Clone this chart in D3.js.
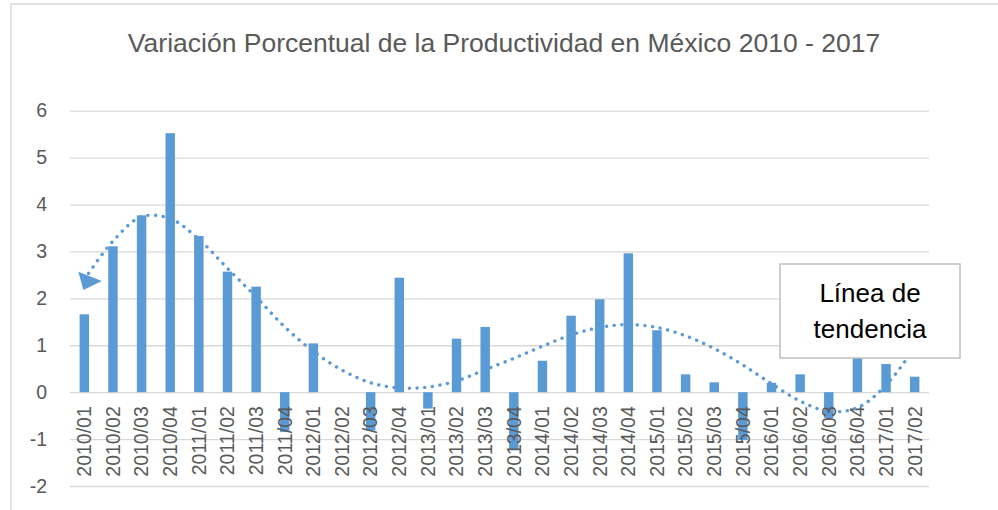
<!DOCTYPE html>
<html>
<head>
<meta charset="utf-8">
<script src="https://cdn.jsdelivr.net/npm/d3@7"></script>
<style>
  html, body { margin: 0; padding: 0; background: #fff; }
  svg { display: block; font-family: "Liberation Sans", Arial, sans-serif; }
</style>
</head>
<body>
<svg id="chart" width="998" height="510"></svg>
<script>
const categories = [
  '2010/01', '2010/02', '2010/03', '2010/04',
  '2011/01', '2011/02', '2011/03', '2011/04',
  '2012/01', '2012/02', '2012/03', '2012/04',
  '2013/01', '2013/02', '2013/03', '2013/04',
  '2014/01', '2014/02', '2014/03', '2014/04',
  '2015/01', '2015/02', '2015/03', '2015/04',
  '2016/01', '2016/02', '2016/03', '2016/04',
  '2017/01', '2017/02',
];

const productividad = [
  1.66, 3.11, 3.77, 5.52,
  3.33, 2.57, 2.25, -0.85,
  1.04, 0.0, -0.82, 2.44,
  -0.35, 1.14, 1.39, -1.24,
  0.67, 1.63, 1.98, 2.96,
  1.32, 0.38, 0.21, -1.02,
  0.2, 0.38, -0.55, 0.85,
  0.6, 0.33,
];

// polynomial trendline, one value per quarter
const tendencia = [
  2.4, 3.22, 3.74, 3.7,
  3.26, 2.64, 2.03, 1.39,
  0.87, 0.47, 0.2, 0.09,
  0.11, 0.24, 0.48, 0.72,
  0.98, 1.22, 1.38, 1.44,
  1.38, 1.2, 0.93, 0.58,
  0.18, -0.19, -0.41, -0.33,
  0.15, 0.95,
];

const yTicks = [-2, -1, 0, 1, 2, 3, 4, 5, 6];
const title = 'Variación Porcentual de la Productividad en México 2010 - 2017';
const calloutLines = ['Línea de', 'tendencia'];

const blue = '#5B9BD5';
const textGray = '#595959';
const gridGray = '#d9d9d9';

const plot = { left: 70, right: 929, top: 110.7, bottom: 486 };

const svg = d3.select('#chart');

// outer chart border (only top and left edges are inside the frame)
svg.append('rect')
  .attr('x', 11).attr('y', 4)
  .attr('width', 1000).attr('height', 520)
  .attr('fill', 'none')
  .attr('stroke', gridGray)
  .attr('stroke-width', 1.5);

svg.append('text')
  .attr('x', 504).attr('y', 51.7)
  .attr('text-anchor', 'middle')
  .attr('fill', textGray)
  .attr('font-size', 26.5)
  .text(title);

const x = d3.scaleBand()
  .domain(categories)
  .range([plot.left, plot.right])
  .paddingInner(0.67)
  .paddingOuter(0.335);

const y = d3.scaleLinear()
  .domain([-2, 6])
  .range([plot.bottom, plot.top]);

const center = (c) => x(c) + x.bandwidth() / 2;

// gridlines + y labels (plain hyphen for negatives, like the original)
const yAxis = svg.append('g')
  .attr('transform', `translate(${plot.left},0)`)
  .call(d3.axisLeft(y).tickValues(yTicks).tickSize(-(plot.right - plot.left)).tickPadding(23).tickFormat((d) => String(d)));

yAxis.select('.domain').remove();
yAxis.selectAll('.tick line').attr('stroke', gridGray).attr('stroke-width', 1.3);
yAxis.selectAll('.tick text')
  .attr('fill', textGray)
  .attr('font-size', 19.5)
  .attr('font-family', '"Liberation Sans", Arial, sans-serif');

// bars
svg.append('g')
  .selectAll('rect')
  .data(productividad)
  .join('rect')
  .attr('x', (d, i) => x(categories[i]))
  .attr('y', (d) => y(Math.max(0, d)))
  .attr('width', x.bandwidth())
  .attr('height', (d) => Math.abs(y(d) - y(0)))
  .attr('fill', blue);

// category labels, rotated, sit just under the zero line
svg.append('g')
  .selectAll('text')
  .data(categories)
  .join('text')
  .attr('transform', (d) => `translate(${center(d)},${y(0) + 14}) rotate(-90)`)
  .attr('dy', '0.35em')
  .attr('text-anchor', 'end')
  .attr('fill', textGray)
  .attr('font-size', 19.5)
  .text((d) => d);

// dotted trendline
const trendLine = d3.line()
  .x((d, i) => center(categories[i]))
  .y((d) => y(d))
  .curve(d3.curveCatmullRom.alpha(0.5));

svg.append('path')
  .datum(tendencia)
  .attr('d', trendLine)
  .attr('fill', 'none')
  .attr('stroke', blue)
  .attr('stroke-width', 3.4)
  .attr('stroke-linecap', 'round')
  .attr('stroke-dasharray', '0.1 7.6');

// arrowhead at the start of the trendline
const tipX = center(categories[0]) + 17.5;
const tipY = y(2.37);
svg.append('path')
  .attr('d', `M${tipX},${tipY} L${tipX - 23.5},${tipY - 9.3} L${tipX - 18.4},${tipY + 9} Z`)
  .attr('fill', blue);

// callout box
const box = svg.append('g').attr('transform', 'translate(780,264)');
box.append('rect')
  .attr('width', 180).attr('height', 94)
  .attr('fill', '#fff')
  .attr('stroke', '#bfbfbf')
  .attr('stroke-width', 1.5);

box.selectAll('text')
  .data(calloutLines)
  .join('text')
  .attr('x', 90)
  .attr('y', (d, i) => 37.7 + i * 36.3)
  .attr('text-anchor', 'middle')
  .attr('fill', '#000')
  .attr('font-size', 26)
  .text((d) => d);
</script>
</body>
</html>
